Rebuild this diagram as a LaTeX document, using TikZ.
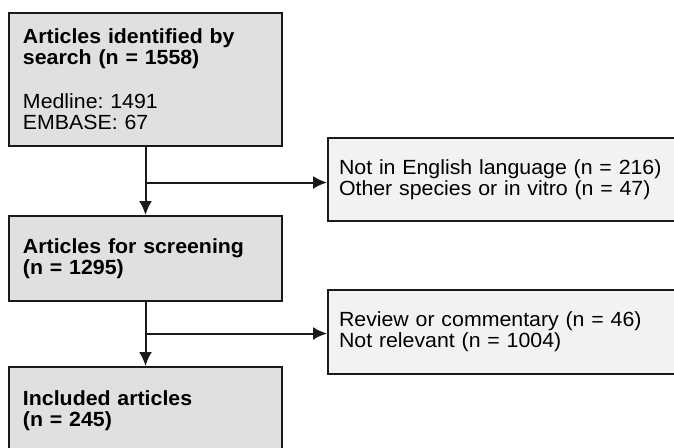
\documentclass[tikz,border=0pt]{standalone}
\usepackage{fontspec}
\setmainfont{Liberation Sans}[FakeStretch=1.04]
\usepackage{tikz}
\usetikzlibrary{arrows.meta}
\frenchspacing
\definecolor{boxgray}{HTML}{E0E0E0}
\definecolor{boxlight}{HTML}{F2F2F2}
\definecolor{edgegray}{HTML}{1A1A1A}
\tikzset{mainbox/.style={draw=edgegray, line width=2pt, fill=boxgray, text width=245pt, inner xsep=14pt, align=left, font=\fontsize{20.5}{21}\selectfont}}
\tikzset{sidebox/.style={draw=edgegray, line width=2pt, fill=boxlight, text width=330pt, inner xsep=11pt, align=left, font=\fontsize{20.5}{21}\selectfont}}
\tikzstyle{arrow} = [line width=2pt, draw=edgegray, -{Latex[length=14pt,width=13pt]}]

\begin{document}
\begin{tikzpicture}[x=1pt,y=-1pt]
\clip (0,0) rectangle (674,447);
\fill[white] (0,0) rectangle (674,447);

% left column
\node[mainbox, minimum height=133pt] (search) at (145.5,79.5) {\textbf{Articles identified by}\\ \textbf{search (n = 1558)}\\[23pt] Medline: 1491\\ EMBASE: 67};
\node[mainbox, minimum height=85pt] (screen) at (145.5,258.5) {\textbf{Articles for screening}\\ \textbf{(n = 1295)}};
\node[mainbox, minimum height=87pt] (incl) at (145.5,410.5) {\textbf{Included articles}\\ \textbf{(n = 245)}};

% exclusions
\node[sidebox, minimum height=82.5pt] (excl1) at (504,179.3) {Not in English language (n = 216)\\ Other species or in vitro (n = 47)};
\node[sidebox, minimum height=84pt] (excl2) at (504,332) {Review or commentary (n = 46)\\ Not relevant (n = 1004)};

\coordinate (split1) at (145.5,182.5);
\coordinate (split2) at (145.5,333.5);

\draw[arrow] (search) -- (screen);
\draw[arrow] (split1) -- (split1 -| excl1.west);
\draw[arrow] (screen) -- (incl);
\draw[arrow] (split2) -- (split2 -| excl2.west);
\end{tikzpicture}
\end{document}
